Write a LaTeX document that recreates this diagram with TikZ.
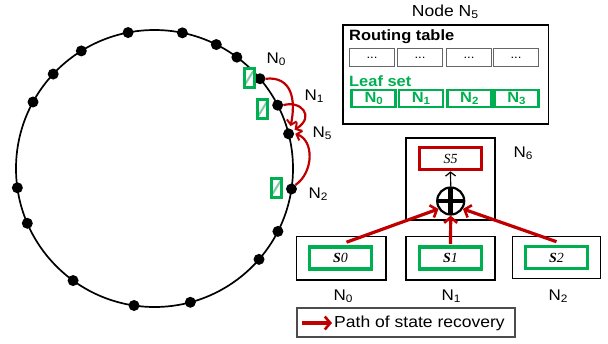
\documentclass[tikz,border=0pt]{standalone}
\usepackage{fontspec}
\setmainfont[FakeStretch=1.1]{Liberation Sans}
\newfontfamily\serifit{Liberation Serif}
\usetikzlibrary{arrows.meta,calc}
\definecolor{myred}{RGB}{192,0,0}
\definecolor{mygreen}{RGB}{0,176,80}
\definecolor{lightgr}{RGB}{120,205,160}
\newcommand\sbs[1]{\raisebox{-0.12em}{\scalebox{0.7}{#1}}}
\tikzset{
  dot/.style={circle,fill=black,inner sep=0pt,minimum size=11bp},
  lbl/.style={font=\fontsize{15.5}{15.5}\selectfont,inner sep=0pt},
  hatchbox/.style={draw=mygreen,line width=3bp,fill=white,minimum width=10bp,minimum height=19bp,inner sep=0pt,
    path picture={\draw[lightgr,line width=2bp] ([xshift=1bp,yshift=3bp]path picture bounding box.south west) -- ([xshift=-1bp,yshift=-3bp]path picture bounding box.north east);}},
  redarrow/.style={draw=myred,line width=3.2bp,-{Straight Barb[length=5.5bp,width=13bp,line width=2.6bp]}},
  redarrowthin/.style={draw=myred,line width=2.2bp,-{Straight Barb[length=4.5bp,width=10bp,line width=2bp]}},
  rcell/.style={draw=black!60,line width=1.4bp,minimum width=45bp,minimum height=18bp,inner sep=0pt,font=\fontsize{12}{12}\selectfont},
  lcell/.style={draw=mygreen,line width=2.6bp,minimum width=44bp,minimum height=17bp,inner sep=0pt,text=mygreen,font=\bfseries\fontsize{15}{15}\selectfont},
  outbox/.style={draw=black,line width=1.6bp,inner sep=0pt},
  sbox/.style={line width=3.6bp,minimum width=62bp,minimum height=22bp,inner sep=0pt,fill=white,font=\serifit\itshape\fontsize{14}{14}\selectfont},
}
\begin{document}
\begin{tikzpicture}[x=1bp,y=-1bp]
\useasboundingbox (0,0) rectangle (608,343);
% ring
\coordinate (c) at (154.5,168.5);
\draw[line width=1.7bp] (c) circle[radius=138.5];
\foreach \a [count=\i] in {101,78.4,63.5,53.5,-27,-41,-75,-98.5,-126,-156.7,-172,151.3,137,121.9}
  \node[dot] (d\i) at ($(c)+(-\a:138.5)$) {};
\node[dot] (N0) at ($(c)+(-40.4:138.5)$) {};
\node[dot] (N1) at ($(c)+(-27.2:138.5)$) {};
\node[dot] (N5) at ($(c)+(-14.5:138.5)$) {};
\node[dot] (N2) at ($(c)+(8.5:138.5)$) {};
% hatched leaf-set boxes
\node[hatchbox] (h0) at (249,78) {};
\node[hatchbox] (h1) at (262.5,109) {};
\node[hatchbox] (h2) at (276.5,187.5) {};
% ring labels
\node[lbl] (lN0) at (276,59) {N\sbs{0}};
\node[lbl] (lN1) at (314,96) {N\sbs{1}};
\node[lbl] (lN5) at (322,133) {N\sbs{5}};
\node[lbl] (lN2) at (318,194) {N\sbs{2}};
% recovery arrows on ring
\draw[redarrowthin] (N0.east) .. controls (292,76) and (296,100) .. ([xshift=2bp,yshift=2bp]N5.north);
\draw[redarrowthin] (N1.east) .. controls (300,100) and (316,116) .. ([xshift=2bp]N5.north east);
\draw[redarrowthin] (N2.north east) .. controls (314,172) and (314,140) .. ([xshift=1bp]N5.east);
% Node N5 box
\node[lbl,font=\fontsize{16}{16}\selectfont] (title) at (445,12) {Node N\sbs{5}};
\node[outbox,minimum width=205.6bp,minimum height=99bp] (n5box) at (445.5,74.5) {};
\node[lbl,anchor=west,font=\bfseries\fontsize{15}{15}\selectfont] (rt) at (349,37) {Routing table};
\node[rcell] (r1) at (372,57.5) {...};
\node[rcell] (r2) at (420,57.5) {...};
\node[rcell] (r3) at (469,57.5) {...};
\node[rcell] (r4) at (516,57.5) {...};
\node[lbl,anchor=west,text=mygreen,font=\bfseries\fontsize{15}{15}\selectfont] (ls) at (349,81) {Leaf set};
\node[lcell] (l0) at (373.7,98.5) {N\sbs{0}};
\node[lcell] (l1) at (421,98.5) {N\sbs{1}};
\node[lcell] (l2) at (469.3,98.5) {N\sbs{2}};
\node[lcell] (l3) at (516.5,98.5) {N\sbs{3}};
% N6 box
\node[outbox,minimum width=89bp,minimum height=82bp] (b6) at (450.5,179) {};
\node[lbl] (lN6) at (523,153) {N\sbs{6}};
\node[sbox,draw=myred] (s5) at (450.5,158.5) {S5};
\node[circle,draw=black,line width=2.2bp,fill=white,minimum size=27bp,inner sep=0pt,
  path picture={\draw[line width=4.5bp] (path picture bounding box.north) -- (path picture bounding box.south);
                \draw[line width=4.5bp] (path picture bounding box.west) -- (path picture bounding box.east);}] (plus) at (450.7,201) {};
\draw[line width=1.2bp,-{Straight Barb[length=4bp,width=10bp,line width=1.2bp]}] (plus.north) -- (s5.south);
% bottom boxes
\node[outbox,minimum width=89.3bp,minimum height=43.3bp] (b0) at (341.3,258.3) {};
\node[outbox,minimum width=89bp,minimum height=43.3bp] (b1) at (450.5,258.3) {};
\node[outbox,minimum width=88bp,minimum height=42bp] (b2) at (556.5,257.5) {};
\node[sbox,draw=mygreen] (s0) at (340.5,258) {\bfseries S\mdseries0};
\node[sbox,draw=mygreen] (s1) at (450.5,258) {\bfseries S\mdseries1};
\node[sbox,draw=mygreen] (s2) at (556.5,257.5) {\bfseries S\mdseries2};
\node[lbl] (lb0) at (343,296) {N\sbs{0}};
\node[lbl] (lb1) at (451,296) {N\sbs{1}};
\node[lbl] (lb2) at (558,296) {N\sbs{2}};
\draw[redarrow] ([xshift=6bp,yshift=3bp]s0.north) -- (plus.213);
\draw[redarrow] ([yshift=1bp]s1.north) -- (plus.south);
\draw[redarrow] ([yshift=3bp]s2.north) -- (plus.-33);
% legend
\node[draw=black!70,line width=1.5bp,minimum width=218bp,minimum height=29bp,inner sep=0pt] (leg) at (406,322.5) {};
\coordinate (la) at (301.5,323);
\coordinate (lb) at (332,323);
\draw[redarrow] (la) -- (lb);
\node[lbl,anchor=west,font=\fontsize{16}{16}\selectfont] (legt) at (334,323.5) {Path of state recovery};
\end{tikzpicture}
\end{document}
